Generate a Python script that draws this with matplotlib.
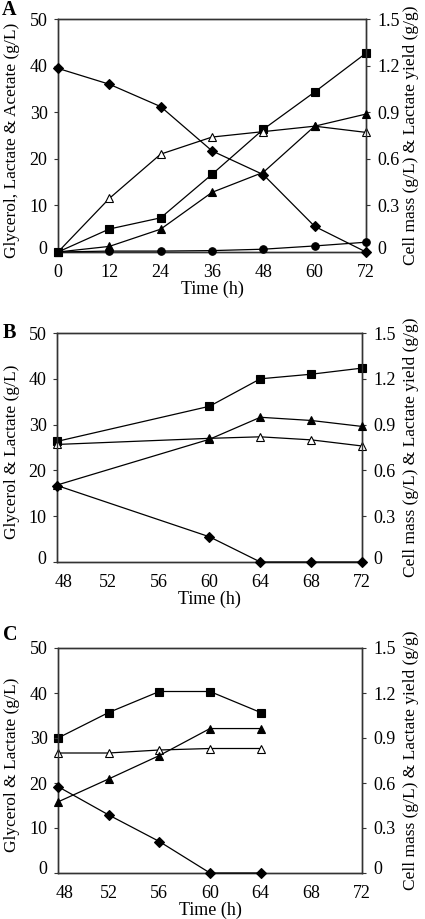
import matplotlib
matplotlib.use("Agg")
import matplotlib.pyplot as plt
from matplotlib.transforms import ScaledTranslation

plt.rcParams['font.family'] = ['Liberation Serif', 'DejaVu Serif']
FS = 13
LFS = 12.5

# ---------------- data ----------------
time_a = [0, 12, 24, 36, 48, 60, 72]
glycerol_a = [39.4, 36.0, 31.2, 21.7, 16.6, 5.5, 0]
lactate_a = [0, 1.2, 4.9, 12.8, 17.1, 27.0, 29.6]
acetate_a = [0, 0.2, 0.2, 0.3, 0.6, 1.3, 2.1]
cellmass_a = [0, 0.148, 0.22, 0.50, 0.79, 1.03, 1.28]
yield_a = [0, 0.345, 0.63, 0.74, 0.775, 0.81, 0.77]

time_b = [48, 60, 64, 68, 72]
glycerol_b = [16.7, 5.5, 0, 0, 0]
lactate_b = [16.8, 26.8, 31.6, 30.9, 29.6]
cellmass_b = [0.79, 1.02, 1.20, 1.23, 1.27]
yield_b = [0.77, 0.81, 0.82, 0.80, 0.76]

time_c = [48, 52, 56, 60, 64]
glycerol_c = [19.2, 12.9, 7.0, 0, 0]
lactate_c = [15.8, 20.9, 26.1, 32.1, 32.1]
cellmass_c = [0.90, 1.07, 1.21, 1.21, 1.07]
yield_c = [0.80, 0.80, 0.82, 0.83, 0.83]

left_ticks = [0, 10, 20, 30, 40, 50]
right_ticks = [0, 0.3, 0.6, 0.9, 1.2, 1.5]
right_ticklabels = ['0', '0.3', '0.6', '0.9', '1.2', '1.5']
xticks_a = [0, 12, 24, 36, 48, 60, 72]
xticks_bc = [48, 52, 56, 60, 64, 68, 72]

W, H = 425, 919
fig = plt.figure(figsize=(W / 100, H / 100), dpi=100)


def box(l, r, t, b):
    return [l / W, 1 - b / H, (r - l) / W, (b - t) / H]


LW = 0.9
MS = 5.4
spine_c = '#333333'


def shift(lab, dx, dy):
    lab.set_transform(lab.get_transform() + ScaledTranslation(dx / 100, dy / 100, fig.dpi_scale_trans))


def lift_zero(ax):
    t = ax.yaxis.get_major_ticks()[0]
    shift(t.label1, 0, 5)
    shift(t.label2, 0, 5)


def setup(ax, xlim, xticks, ylabel, letter, letter_xy, lx, rx, first_dx=0):
    ax.set_xlim(*xlim)
    ax.set_ylim(0, 50)
    ax.set_xticks(xticks)
    ax.set_yticks(left_ticks)
    ax.tick_params(axis='x', length=0, pad=8.5, labelsize=FS)
    ax.tick_params(axis='y', length=3, width=0.8, color=spine_c, pad=4.5, labelsize=FS)
    for s in ax.spines.values():
        s.set_color(spine_c)
        s.set_linewidth(1.0)
    ax.set_xlabel('Time (h)', fontsize=FS, labelpad=0)
    ax.set_ylabel(ylabel, fontsize=LFS)
    ax.yaxis.set_label_coords(lx, 0.48)
    lift_zero(ax)
    if first_dx:
        shift(ax.xaxis.get_major_ticks()[0].label1, first_dx, 0)
    ax2 = ax.twinx()
    ax2.set_ylim(0, 1.5)
    ax2.set_yticks(right_ticks)
    ax2.set_yticklabels(right_ticklabels)
    ax2.tick_params(axis='y', length=3, width=0.8, color=spine_c, pad=5, labelsize=FS)
    for s in ax2.spines.values():
        s.set_color(spine_c)
        s.set_linewidth(1.0)
    ax2.set_ylabel('Cell mass (g/L) & Lactate yield (g/g)', fontsize=LFS)
    ax2.yaxis.set_label_coords(rx, 0.5)
    lift_zero(ax2)
    fig.text(letter_xy[0] / W, 1 - letter_xy[1] / H, letter, fontsize=14.5,
             fontweight='bold', ha='left', va='center')
    return ax2


def plot_series(ax, x, y, marker, mfc='black'):
    ax.plot(x, y, color='black', lw=LW, marker=marker, ms=MS, mfc=mfc,
            mec='black', mew=0.8, clip_on=False, zorder=3)


# ---------------- Panel A ----------------
axA = fig.add_axes(box(58, 366, 19, 252))
axA2 = setup(axA, (0, 72), xticks_a, 'Glycerol, Lactate & Acetate (g/L)', 'A', (2, 10),
             (20 - 58) / 308, (403 - 58) / 308)
plot_series(axA, time_a, acetate_a, 'o')
plot_series(axA, time_a, glycerol_a, 'D')
plot_series(axA, time_a, lactate_a, '^')
plot_series(axA2, time_a, cellmass_a, 's')
plot_series(axA2, time_a, yield_a, '^', mfc='white')

# ---------------- Panel B ----------------
axB = fig.add_axes(box(57, 362, 333, 562))
axB2 = setup(axB, (48, 72), xticks_bc, 'Glycerol & Lactate (g/L)', 'B', (3, 333),
             (20 - 57) / 305, (403 - 57) / 305, first_dx=7)
plot_series(axB, time_b, glycerol_b, 'D')
plot_series(axB, time_b, lactate_b, '^')
plot_series(axB2, time_b, cellmass_b, 's')
plot_series(axB2, time_b, yield_b, '^', mfc='white')

# ---------------- Panel C ----------------
axC = fig.add_axes(box(58, 362, 648, 873))
axC2 = setup(axC, (48, 72), xticks_bc, 'Glycerol & Lactate (g/L)', 'C', (3, 635),
             (20 - 58) / 304, (403 - 58) / 304, first_dx=7)
plot_series(axC, time_c, glycerol_c, 'D')
plot_series(axC, time_c, lactate_c, '^')
plot_series(axC2, time_c, cellmass_c, 's')
plot_series(axC2, time_c, yield_c, '^', mfc='white')

for ax in (axA, axB, axC):
    ax.set_zorder(2)
    ax.patch.set_visible(False)

fig.savefig('out.png', dpi=100)
